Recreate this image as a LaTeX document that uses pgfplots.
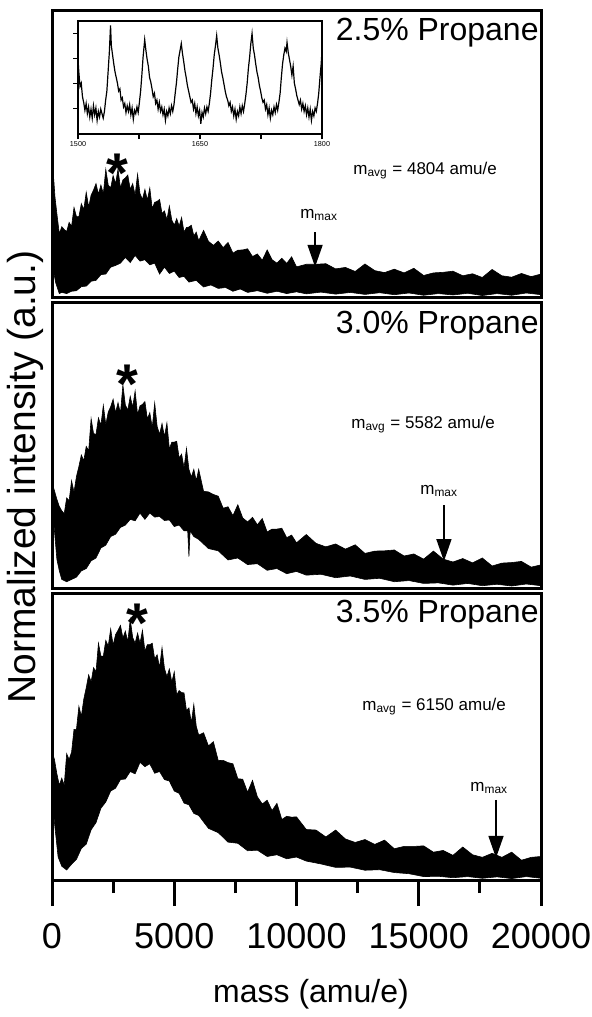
\documentclass[border=0pt]{standalone}
\usepackage{pgfplots}
\pgfplotsset{compat=1.18}
\usepackage{fontspec}
\setmainfont{Liberation Sans}
\usetikzlibrary{arrows.meta}

% one spectrum panel: normalised intensity 0..1 against mass 0..20000
\pgfplotsset{
  panel/.style={
    scale only axis, width=244.5pt, anchor=south west,
    xmin=0, xmax=20000, ymin=0, ymax=1,
    xtick=\empty, ytick=\empty,
    axis line style={line width=1.5pt}, clip=false,
  },
}
\tikzset{
  spec/.style={fill=black, draw=black, line width=0.3pt},
  txtbig/.style={font=\fontsize{16}{19}\selectfont, anchor=east, inner sep=0pt},
  txtsmall/.style={font=\fontsize{8.5}{10}\selectfont, anchor=west, inner sep=0pt},
  marrow/.style={-{Triangle[width=7.5pt,length=11pt]}, line width=0.7pt},
  star/.style={font=\fontsize{28}{30}\bfseries\selectfont, inner sep=0pt},
}

\begin{document}
\begin{tikzpicture}
\useasboundingbox (0,0) rectangle (296pt,-508.5pt);

% ---------- 2.5 % propane ----------
\begin{axis}[panel, at={(26pt,-148.5pt)}, height=143.5pt]
\addplot[spec] coordinates {
(20,0.10) (40,0.44) (80,0.40) (120,0.35) (200,0.29) (300,0.22) (400,0.245)
(500,0.235) (600,0.228) (700,0.26) (800,0.246) (900,0.312) (1000,0.28) (1100,0.28) (1200,0.325)
(1300,0.305) (1400,0.365) (1500,0.313) (1600,0.355) (1700,0.373) (1800,0.395) (1900,0.358) (2000,0.39)
(2100,0.36) (2200,0.445) (2300,0.39) (2400,0.38) (2500,0.423) (2600,0.395) (2700,0.445) (2800,0.38)
(2900,0.408) (3000,0.415) (3100,0.425) (3200,0.375) (3300,0.395) (3400,0.355) (3500,0.428) (3600,0.36)
(3700,0.34) (3800,0.375) (3900,0.338) (4000,0.38) (4100,0.308) (4200,0.33) (4300,0.333) (4400,0.34)
(4500,0.291) (4600,0.30) (4700,0.269) (4800,0.317) (4900,0.268) (5000,0.25) (5100,0.273) (5200,0.247)
(5300,0.277) (5400,0.226) (5500,0.242) (5600,0.244) (5700,0.25) (5800,0.213) (5900,0.226) (6000,0.196)
(6200,0.232) (6400,0.194) (6600,0.18) (6800,0.195) (7000,0.172) (7200,0.19) (7400,0.153) (7600,0.163)
(7800,0.164) (8000,0.168) (8200,0.141) (8400,0.15) (8600,0.128) (8800,0.164) (9000,0.13) (9200,0.118)
(9400,0.135) (9600,0.117) (9800,0.14) (10000,0.105) (10400,0.114) (10800,0.114) (11200,0.116) (11600,0.098)
(12000,0.103) (12400,0.089) (12800,0.115) (13200,0.092) (13600,0.085) (14000,0.097) (14400,0.084) (14800,0.10)
(15200,0.075) (15600,0.084) (16000,0.086) (16400,0.09) (16800,0.074) (17200,0.081) (17600,0.068) (18000,0.096)
(18400,0.074) (18800,0.069) (19200,0.082) (19600,0.071) (20000,0.08)
(20000,0.008) (19400,0.014) (18800,0.006) (18200,0.012) (17600,0.005) (17000,0.013) (16400,0.007) (15800,0.012)
(15200,0.006) (14600,0.014) (14000,0.008) (13400,0.015) (12800,0.009) (12200,0.016) (11600,0.01) (11000,0.017)
(10400,0.011) (10000,0.018) (9600,0.012) (9200,0.02) (8800,0.013) (8400,0.022) (8000,0.016) (7700,0.028)
(7400,0.02) (7100,0.033) (6800,0.03) (6500,0.042) (6200,0.035) (5900,0.058) (5600,0.052) (5400,0.072)
(5200,0.068) (5000,0.09) (4800,0.082) (4600,0.104) (4400,0.08) (4200,0.118) (4000,0.112) (3800,0.13)
(3600,0.125) (3400,0.145) (3200,0.12) (3000,0.138) (2800,0.118) (2600,0.11) (2400,0.104) (2200,0.08)
(2000,0.078) (1800,0.058) (1600,0.055) (1400,0.038) (1200,0.036) (1000,0.022) (800,0.02) (600,0.012)
(400,0.016) (300,0.012) (150,0.05) (40,0.1)
};
\node[txtbig] at (axis cs:19920,0.92) {2.5\% Propane};
\node[txtsmall] at (axis cs:12310,0.44) {m\textsubscript{avg} = 4804 amu/e};
\node[txtsmall] at (axis cs:10140,0.286) {m\textsubscript{max}};
\draw[marrow] (axis cs:10760,0.226) -- (axis cs:10760,0.105);
\node[star] at (axis cs:2660,0.43) {*};
\end{axis}

% inset: 1500-1800 amu/e
\begin{axis}[scale only axis, width=122pt, height=56.5pt, at={(39pt,-67pt)}, anchor=south west,
  xmin=1500, xmax=1800, ymin=0, ymax=1,
  xtick={1500,1650,1800}, minor xtick={1575,1725},
  ytick={0.226,0.447,0.668,0.888}, yticklabels={},
  tick align=outside, xtick pos=left, ytick pos=left,
  major tick length=2.5pt, minor tick length=2.5pt,
  axis line style={line width=0.7pt}, tick style={line width=0.6pt, black},
  xticklabel style={font=\fontsize{3.6}{4}\selectfont, inner sep=1pt},
  scaled x ticks=false,
  /pgf/number format/1000 sep={}, /pgf/number format/assume math mode=true,
  axis background/.style={fill=white}]
\addplot[black, line width=0.6pt] coordinates {
(1500,0.66) (1501,0.55) (1502.5,0.42) (1504,0.45) (1505.5,0.33) (1507,0.28) (1508.5,0.21) (1510,0.27)
(1511.5,0.18) (1513,0.24) (1514.5,0.15) (1516,0.22) (1517.5,0.14) (1519,0.25) (1520.5,0.17) (1522,0.23)
(1523.5,0.12) (1525,0.2) (1526.5,0.15) (1528,0.22) (1529.5,0.18) (1531,0.14) (1532.5,0.2) (1534,0.3)
(1535.5,0.38) (1537,0.55) (1538.5,0.72) (1540,0.96) (1541,0.78) (1542.5,0.7) (1544,0.62) (1545.5,0.55)
(1547,0.5) (1548.5,0.45) (1550,0.38) (1551.5,0.4) (1553,0.3) (1554.5,0.32) (1556,0.24) (1557.5,0.27)
(1559,0.19) (1560.5,0.25) (1562,0.2) (1563.5,0.26) (1565,0.17) (1566.5,0.23) (1568,0.13) (1569.5,0.21)
(1571,0.18) (1572.5,0.24) (1574,0.19) (1575.5,0.28) (1577,0.38) (1578.5,0.52) (1580,0.68) (1582,0.835)
(1583.5,0.74) (1585,0.66) (1586.5,0.6) (1588,0.5) (1589.5,0.46) (1591,0.4) (1592.5,0.33) (1594,0.36)
(1595.5,0.27) (1597,0.3) (1598.5,0.22) (1600,0.28) (1601.5,0.2) (1603,0.24) (1604.5,0.17) (1606,0.22)
(1607.5,0.12) (1609,0.2) (1610.5,0.16) (1612,0.23) (1613.5,0.18) (1615,0.25) (1616.5,0.2) (1618,0.26)
(1619.5,0.36) (1621,0.45) (1622.5,0.57) (1624,0.68) (1625.5,0.74) (1627,0.80) (1628.5,0.71) (1630,0.64)
(1631.5,0.56) (1633,0.5) (1634.5,0.43) (1636,0.38) (1637.5,0.33) (1639,0.28) (1640.5,0.3) (1642,0.22)
(1643.5,0.27) (1645,0.18) (1646.5,0.24) (1648,0.16) (1649.5,0.21) (1651,0.09) (1652.5,0.19) (1654,0.15)
(1655.5,0.23) (1657,0.18) (1658.5,0.24) (1660,0.2) (1661.5,0.27) (1663,0.36) (1664.5,0.48) (1666,0.58)
(1667.5,0.7) (1669,0.78) (1670.5,0.87) (1672,0.76) (1673.5,0.7) (1675,0.63) (1676.5,0.55) (1678,0.5)
(1679.5,0.44) (1681,0.38) (1682.5,0.33) (1684,0.3) (1685.5,0.25) (1687,0.28) (1688.5,0.2) (1690,0.24)
(1691.5,0.16) (1693,0.22) (1694.5,0.13) (1696,0.2) (1697.5,0.16) (1699,0.24) (1700.5,0.18) (1702,0.25)
(1703.5,0.2) (1705,0.27) (1706.5,0.35) (1708,0.45) (1709.5,0.58) (1711,0.68) (1712.5,0.8) (1714,0.89)
(1715.5,0.76) (1717,0.7) (1718.5,0.62) (1720,0.55) (1721.5,0.5) (1723,0.43) (1724.5,0.38) (1726,0.32)
(1727.5,0.28) (1729,0.3) (1730.5,0.22) (1732,0.26) (1733.5,0.17) (1735,0.23) (1736.5,0.14) (1738,0.21)
(1739.5,0.17) (1741,0.24) (1742.5,0.19) (1744,0.26) (1745.5,0.21) (1747,0.28) (1748.5,0.36) (1750,0.5)
(1751.5,0.62) (1753,0.7) (1754.5,0.76) (1756,0.73) (1757,0.81) (1758.5,0.72) (1760,0.66) (1761.5,0.6)
(1763,0.52) (1764.5,0.6) (1766,0.45) (1767.5,0.4) (1769,0.34) (1770.5,0.3) (1772,0.26) (1773.5,0.3)
(1775,0.22) (1776.5,0.27) (1778,0.2) (1779.5,0.25) (1781,0.17) (1782.5,0.23) (1784,0.15) (1785.5,0.22)
(1787,0.12) (1788.5,0.2) (1790,0.16) (1791.5,0.23) (1793,0.2) (1794.5,0.27) (1796,0.36) (1797.5,0.5)
(1799,0.62) (1800,0.74)
};
\end{axis}

% ---------- 3.0 % propane ----------
\begin{axis}[panel, at={(26pt,-294pt)}, height=143pt]
\addplot[spec] coordinates {
(20,0.30) (30,0.36) (100,0.34) (200,0.31) (300,0.285)
(400,0.27) (500,0.26) (600,0.315) (700,0.305) (800,0.375) (900,0.335) (1000,0.39) (1100,0.425)
(1200,0.465) (1300,0.445) (1400,0.495) (1500,0.48) (1600,0.592) (1700,0.54) (1800,0.537) (1900,0.595)
(2000,0.569) (2100,0.639) (2200,0.571) (2300,0.615) (2400,0.634) (2500,0.66) (2600,0.613) (2700,0.648)
(2800,0.611) (2900,0.71) (3000,0.64) (3100,0.622) (3200,0.67) (3300,0.632) (3400,0.689) (3500,0.606)
(3600,0.637) (3700,0.642) (3800,0.652) (3900,0.591) (4000,0.613) (4100,0.561) (4200,0.647) (4300,0.565)
(4400,0.537) (4500,0.575) (4600,0.529) (4700,0.577) (4800,0.486) (4900,0.51) (5000,0.51) (5100,0.513)
(5200,0.455) (5300,0.468) (5400,0.42) (5500,0.488) (5600,0.415) (5700,0.388) (5800,0.415) (5900,0.375)
(6000,0.415) (6200,0.338) (6400,0.336) (6600,0.327) (6800,0.321) (7000,0.279) (7200,0.284) (7400,0.253)
(7600,0.291) (7800,0.245) (8000,0.231) (8200,0.247) (8400,0.221) (8600,0.243) (8800,0.196) (9000,0.206)
(9200,0.206) (9400,0.209) (9600,0.176) (9800,0.185) (10000,0.158) (10400,0.187) (10800,0.156) (11200,0.144)
(11600,0.154) (12000,0.136) (12400,0.151) (12800,0.121) (13200,0.129) (13600,0.13) (14000,0.133) (14400,0.112)
(14800,0.119) (15200,0.101) (15600,0.129) (16000,0.101) (16400,0.091) (16800,0.103) (17200,0.088) (17600,0.105)
(18000,0.077) (18400,0.087) (18800,0.089) (19200,0.093) (19600,0.073) (20000,0.081)
(20000,0.008) (19400,0.014) (18800,0.007) (18200,0.013) (17600,0.008) (17000,0.016) (16400,0.01) (15800,0.018)
(15200,0.016) (14600,0.026) (14000,0.022) (13400,0.034) (12800,0.03) (12200,0.042) (11600,0.036) (11000,0.048)
(10400,0.045) (10000,0.058) (9600,0.05) (9200,0.068) (8800,0.062) (8400,0.085) (8000,0.082) (7600,0.105)
(7200,0.098) (6800,0.13) (6400,0.138) (6000,0.17) (5800,0.18) (5650,0.20) (5600,0.11) (5550,0.20)
(5400,0.2) (5200,0.22) (5000,0.215) (4800,0.238) (4600,0.236) (4400,0.25) (4200,0.248) (4000,0.262)
(3800,0.24) (3600,0.262) (3400,0.235) (3200,0.24) (3000,0.22) (2800,0.212) (2600,0.188) (2400,0.18)
(2200,0.15) (2000,0.14) (1800,0.105) (1600,0.095) (1400,0.068) (1200,0.06) (1000,0.038) (800,0.03)
(600,0.022) (400,0.03) (300,0.06) (200,0.10) (100,0.2) (30,0.3)
};
\node[txtbig] at (axis cs:19920,0.916) {3.0\% Propane};
\node[txtsmall] at (axis cs:12230,0.573) {m\textsubscript{avg} = 5582 amu/e};
\node[txtsmall] at (axis cs:15050,0.34) {m\textsubscript{max}};
\draw[marrow] (axis cs:16030,0.29) -- (axis cs:16030,0.094);
\node[star] at (axis cs:3070,0.714) {*};
\end{axis}

% ---------- 3.5 % propane ----------
\begin{axis}[panel, at={(26pt,-440pt)}, height=143.5pt,
  xtick={0,5000,10000,15000,20000}, minor xtick={2500,7500,12500,17500},
  tick align=outside, xtick pos=left,
  major tick length=13pt, minor tick length=6.5pt,
  tick style={line width=1.5pt, black},
  scaled x ticks=false,
  xticklabel style={font=\fontsize{18}{21}\selectfont, yshift=-5pt},
  /pgf/number format/1000 sep={}, /pgf/number format/assume math mode=true]
\addplot[spec] coordinates {
(20,0.30) (30,0.44) (100,0.42) (200,0.37) (300,0.33)
(400,0.355) (500,0.33) (600,0.44) (700,0.42) (800,0.445) (900,0.525) (1000,0.525) (1100,0.605)
(1200,0.57) (1300,0.63) (1400,0.67) (1500,0.715) (1600,0.69) (1700,0.74) (1800,0.725) (1900,0.825)
(2000,0.78) (2100,0.78) (2200,0.835) (2300,0.815) (2400,0.875) (2500,0.818) (2600,0.855) (2700,0.87)
(2800,0.887) (2900,0.843) (3000,0.867) (3100,0.83) (3200,0.908) (3300,0.845) (3400,0.825) (3500,0.86)
(3600,0.825) (3700,0.87) (3800,0.798) (3900,0.82) (4000,0.82) (4100,0.825) (4200,0.77) (4300,0.785)
(4400,0.74) (4500,0.81) (4600,0.737) (4700,0.709) (4800,0.735) (4900,0.69) (5000,0.725) (5100,0.645)
(5200,0.66) (5300,0.653) (5400,0.652) (5500,0.59) (5600,0.60) (5700,0.548) (5800,0.612) (5900,0.536)
(6000,0.505) (6200,0.513) (6400,0.467) (6600,0.482) (6800,0.416) (7000,0.417) (7200,0.409) (7400,0.405)
(7600,0.353) (7800,0.351) (8000,0.306) (8200,0.347) (8400,0.29) (8600,0.265) (8800,0.278) (9000,0.242)
(9200,0.267) (9400,0.211) (9600,0.222) (9800,0.219) (10000,0.22) (10400,0.176) (10800,0.174) (11200,0.15)
(11600,0.174) (12000,0.143) (12400,0.131) (12800,0.141) (13200,0.124) (13600,0.139) (14000,0.109) (14400,0.117)
(14800,0.117) (15200,0.119) (15600,0.097) (16000,0.103) (16400,0.086) (16800,0.115) (17200,0.088) (17600,0.079)
(18000,0.093) (18400,0.079) (18800,0.097) (19200,0.069) (19600,0.079) (20000,0.082)
(20000,0.006) (19400,0.012) (18800,0.005) (18200,0.011) (17600,0.006) (17000,0.012) (16400,0.008) (15800,0.013)
(15200,0.012) (14600,0.022) (14000,0.026) (13400,0.036) (12800,0.034) (12200,0.045) (11600,0.044) (11000,0.056)
(10400,0.066) (10000,0.08) (9600,0.074) (9200,0.088) (8800,0.082) (8400,0.104) (8000,0.102) (7600,0.128)
(7200,0.132) (6800,0.165) (6400,0.18) (6000,0.225) (5800,0.232) (5600,0.262) (5400,0.268) (5200,0.302)
(5000,0.31) (4800,0.345) (4600,0.35) (4400,0.378) (4200,0.372) (4000,0.405) (3800,0.395) (3600,0.41)
(3400,0.37) (3200,0.378) (3000,0.352) (2800,0.35) (2600,0.32) (2400,0.31) (2200,0.272) (2000,0.25)
(1800,0.2) (1600,0.175) (1400,0.125) (1200,0.11) (1000,0.072) (800,0.055) (600,0.035) (400,0.048)
(250,0.08) (100,0.2) (30,0.3)
};
\node[txtbig] at (axis cs:19920,0.923) {3.5\% Propane};
\node[txtsmall] at (axis cs:12680,0.603) {m\textsubscript{avg} = 6150 amu/e};
\node[txtsmall] at (axis cs:17100,0.32) {m\textsubscript{max}};
\draw[marrow] (axis cs:18160,0.279) -- (axis cs:18160,0.077);
\node[star] at (axis cs:3480,0.893) {*};
\end{axis}

\node[font=\fontsize{16}{19}\selectfont] at (155.5pt,-497pt) {mass (amu/e)};
\node[font=\fontsize{19.5}{23}\selectfont, rotate=90] at (12.5pt,-238.5pt) {Normalized intensity (a.u.)};
\end{tikzpicture}
\end{document}
